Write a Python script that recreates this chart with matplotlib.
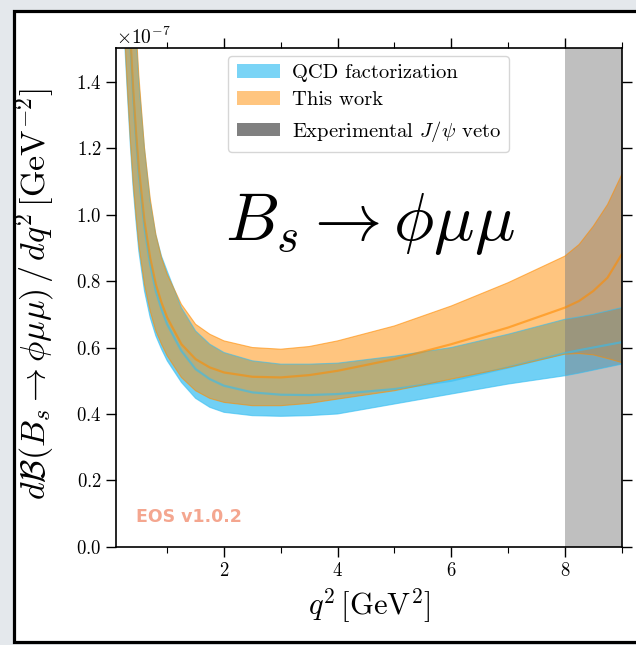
import matplotlib
matplotlib.use("Agg")
import matplotlib.pyplot as plt
from matplotlib.patches import Patch, Rectangle
from matplotlib.ticker import MultipleLocator

plt.rcParams["font.family"] = "serif"
plt.rcParams["font.serif"] = ["cmr10"]
plt.rcParams["mathtext.fontset"] = "cm"
plt.rcParams["axes.formatter.use_mathtext"] = True

# q^2 grid in GeV^2, branching-ratio values in units of 1e-7 GeV^-2
q2 = [0.25, 0.3, 0.35, 0.4, 0.45, 0.5, 0.6, 0.7, 0.8, 0.9, 1.0, 1.25, 1.5, 1.75,
      2.0, 2.5, 3.0, 3.5, 4.0, 5.0, 6.0, 7.0, 8.0, 8.25, 8.5, 8.75, 9.0]

qcdf_lo = [1.52, 1.36, 1.21, 1.08, 0.98, 0.89, 0.77, 0.69, 0.635, 0.595, 0.56, 0.495, 0.447, 0.42,
           0.405, 0.395, 0.393, 0.395, 0.40, 0.43, 0.46, 0.49, 0.515, 0.523, 0.532, 0.541, 0.55]
qcdf_mid = [1.90, 1.70, 1.52, 1.36, 1.23, 1.12, 0.96, 0.85, 0.77, 0.715, 0.67, 0.59, 0.535, 0.505,
            0.485, 0.465, 0.458, 0.457, 0.46, 0.475, 0.50, 0.54, 0.583, 0.592, 0.60, 0.608, 0.616]
qcdf_hi = [2.40, 2.10, 1.90, 1.72, 1.55, 1.40, 1.20, 1.04, 0.94, 0.875, 0.83, 0.72, 0.65, 0.61,
           0.585, 0.56, 0.55, 0.55, 0.553, 0.574, 0.60, 0.64, 0.685, 0.692, 0.70, 0.71, 0.72]

this_lo = [1.55, 1.38, 1.23, 1.10, 1.00, 0.91, 0.79, 0.71, 0.65, 0.61, 0.575, 0.51, 0.47, 0.447,
           0.435, 0.425, 0.425, 0.432, 0.445, 0.47, 0.505, 0.54, 0.58, 0.582, 0.578, 0.567, 0.555]
this_mid = [1.95, 1.72, 1.54, 1.38, 1.25, 1.14, 0.98, 0.87, 0.79, 0.735, 0.69, 0.61, 0.565, 0.54,
            0.525, 0.512, 0.51, 0.517, 0.53, 0.565, 0.61, 0.66, 0.72, 0.74, 0.77, 0.81, 0.88]
this_hi = [2.50, 2.20, 1.95, 1.76, 1.57, 1.42, 1.20, 1.05, 0.94, 0.87, 0.82, 0.73, 0.67, 0.64,
           0.62, 0.60, 0.595, 0.603, 0.62, 0.665, 0.725, 0.795, 0.875, 0.91, 0.965, 1.03, 1.12]

veto = (8.0, 9.0)
scale = 1e-7

blue = "#33bdf2"
orange = "#ff8c00"

fig = plt.figure(figsize=(6.36, 6.45), dpi=100, facecolor="#e4e8ec")
fig.patches.append(Rectangle((14 / 636, 3 / 645), 1.0, 631 / 645, transform=fig.transFigure,
                             facecolor="white", edgecolor="black", lw=2.3, zorder=-1))

ax = fig.add_axes([0.1825, 0.152, 0.795, 0.773])

def band(lo, mid, hi, color, a):
    ax.fill_between(q2, [v * scale for v in lo], [v * scale for v in hi],
                    color=color, alpha=a, lw=0)
    ax.plot(q2, [v * scale for v in lo], color=color, alpha=0.6, lw=0.8)
    ax.plot(q2, [v * scale for v in hi], color=color, alpha=0.6, lw=0.8)
    ax.plot(q2, [v * scale for v in mid], color=color, alpha=0.6, lw=1.6)

band(qcdf_lo, qcdf_mid, qcdf_hi, blue, 0.7)
band(this_lo, this_mid, this_hi, orange, 0.5)
ax.axvspan(*veto, color="gray", alpha=0.5, lw=0)

ax.set_xlim(0.1, 9.0)
ax.set_ylim(0, 1.5e-7)
ax.xaxis.set_major_locator(MultipleLocator(2))
ax.xaxis.set_minor_locator(MultipleLocator(1))
ax.yaxis.set_major_locator(MultipleLocator(0.2e-7))
ax.tick_params(which="both", direction="out", top=True, right=True, labelsize=13.5)
ax.tick_params(which="major", length=7, width=1)
ax.tick_params(which="minor", length=4, width=0.8)
ax.yaxis.get_offset_text().set_fontsize(14)
for s in ax.spines.values():
    s.set_linewidth(1.2)

ax.set_xlabel(r"$q^2\,[\mathrm{GeV}^2]$", fontsize=22)
ax.set_ylabel(r"$d\mathcal{B}(B_s \to \phi\mu\mu)\,/\,dq^2\,[\mathrm{GeV}^{-2}]$", fontsize=24.5)
ax.xaxis.set_label_coords(0.5, -0.078)
ax.yaxis.set_label_coords(-0.117, 0.508)

ax.text(0.502, 0.648, r"$B_s \to \phi\mu\mu$", transform=ax.transAxes, fontsize=48.5,
        ha="center", va="center")
ax.text(0.04, 0.06, "EOS v1.0.2", transform=ax.transAxes, fontsize=12.5, color="#f08060",
        alpha=0.7, fontweight="bold", family="DejaVu Sans", ha="left", va="center")

handles = [Patch(facecolor=blue, alpha=0.65, lw=0),
           Patch(facecolor=orange, alpha=0.5, lw=0),
           Patch(facecolor="gray", lw=0)]
labels = ["QCD factorization", "This work", r"Experimental $J/\psi$ veto"]
ax.legend(handles, labels, loc="upper left", bbox_to_anchor=(0.222, 0.985), borderaxespad=0,
          fontsize=14.8, handlelength=2.1, handleheight=0.65, handletextpad=0.6,
          labelspacing=0.45, borderpad=0.4, framealpha=0.8)

fig.savefig("out.png", dpi=100, facecolor=fig.get_facecolor())
